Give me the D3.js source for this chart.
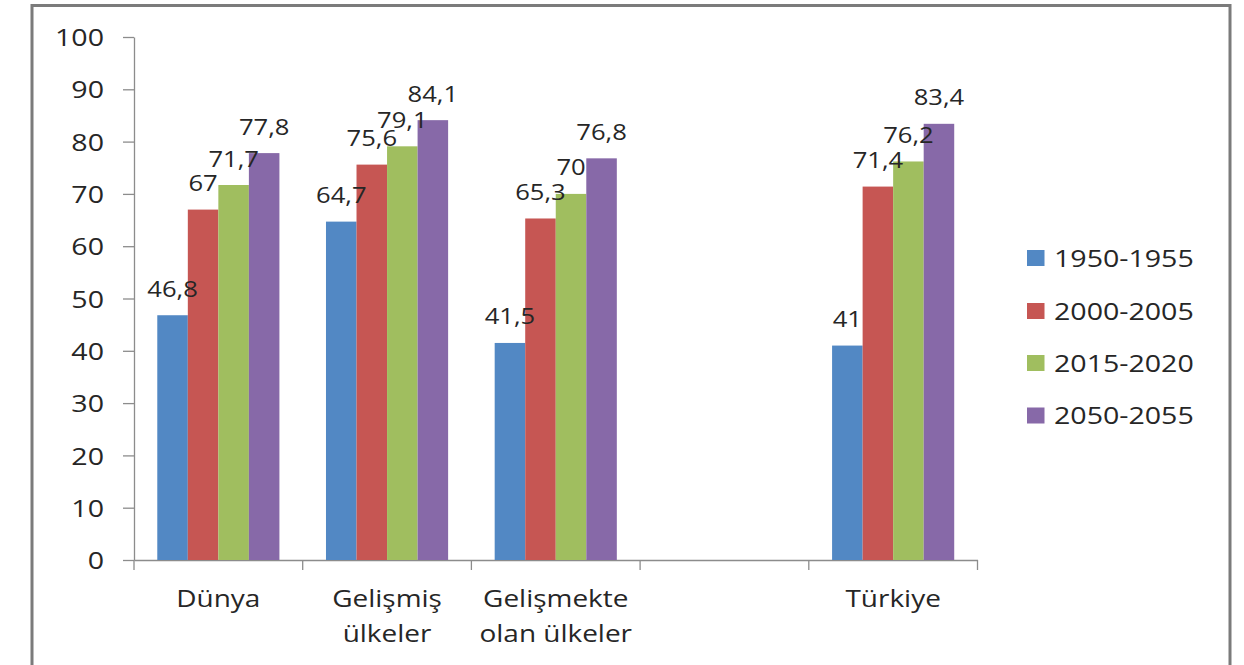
<!DOCTYPE html>
<html>
<head>
<meta charset="utf-8">
<script src="https://cdn.jsdelivr.net/npm/d3@7"></script>
<style>
  html, body { margin: 0; padding: 0; background: #ffffff; }
  svg { display: block; font-family: "Open Sans", sans-serif; }
</style>
</head>
<body>
<svg id="chart" width="1244" height="665"></svg>
<script>
// ---- data ----
const categories = ["Dünya", "Gelişmiş ülkeler", "Gelişmekte olan ülkeler", "", "Türkiye"];
const categoryLines = [["Dünya"], ["Gelişmiş", "ülkeler"], ["Gelişmekte", "olan ülkeler"], [], ["Türkiye"]];
const series = ["1950-1955", "2000-2005", "2015-2020", "2050-2055"];
const values1950 = [46.8, 64.7, 41.5, null, 41];
const values2000 = [67, 75.6, 65.3, null, 71.4];
const values2015 = [71.7, 79.1, 70, null, 76.2];
const values2050 = [77.8, 84.1, 76.8, null, 83.4];
const yTicks = [0, 10, 20, 30, 40, 50, 60, 70, 80, 90, 100];
const colors = ["#5288C4", "#C65653", "#A0BE5F", "#8769A8"];

const seriesValues = [values1950, values2000, values2015, values2050];
const keys = categories.map((c, i) => "c" + i);

const SX = 1.19; // horizontal stretch of the source rendering
const svg = d3.select("#chart");

// outer frame
svg.append("rect").attr("x", 32).attr("y", 5.5).attr("width", 1198).attr("height", 700)
  .attr("fill", "#fff").attr("stroke", "#7b7b7b").attr("stroke-width", 3);

const x0 = d3.scaleBand().domain(keys).range([134, 977.5]).paddingInner(0).paddingOuter(0);
const bw = x0.bandwidth();
const gap = bw * 0.138;
const x1 = d3.scaleBand().domain(series).range([gap, bw - gap]).padding(0);
const y = d3.scaleLinear().domain([0, 100]).range([560, 37]);

function stretchText(sel) {
  sel.each(function () {
    const t = d3.select(this);
    const xv = +t.attr("x") || 0;
    t.attr("x", xv / SX).attr("transform", `scale(${SX},1)`);
  });
}

// y axis
const yAxis = svg.append("g").attr("transform", "translate(134,0)")
  .call(d3.axisLeft(y).tickValues(yTicks).tickSize(11).tickPadding(19).tickSizeOuter(0));
yAxis.select(".domain").attr("stroke", "#8c8c8c").attr("stroke-width", 1.3);
yAxis.selectAll(".tick line").attr("stroke", "#8c8c8c").attr("stroke-width", 1.3);
yAxis.selectAll(".tick text").attr("font-family", "Open Sans").attr("font-size", 24)
  .attr("fill", "#262626").attr("dy", "0.36em").call(stretchText);

// x axis
const xAxis = svg.append("g").attr("transform", "translate(0,560)")
  .call(d3.axisBottom(x0).tickSize(0).tickFormat(""));
xAxis.select(".domain").attr("stroke", "#8c8c8c").attr("stroke-width", 1.3);
const bounds = keys.map(k => x0(k)).concat([x0(keys[keys.length - 1]) + bw]);
xAxis.selectAll("line.bound").data(bounds).enter().append("line").attr("class", "bound")
  .attr("x1", d => d).attr("x2", d => d).attr("y1", 0).attr("y2", 10)
  .attr("stroke", "#8c8c8c").attr("stroke-width", 1.3);

// category labels
const catG = svg.append("g");
keys.forEach((k, i) => {
  categoryLines[i].forEach((line, j) => {
    catG.append("text")
      .attr("transform", `translate(${x0(k) + bw / 2},${607 + j * 34.5}) scale(${SX},1)`)
      .attr("text-anchor", "middle").attr("font-size", 23.5).attr("fill", "#262626")
      .text(line);
  });
});

// bars
const barData = [];
keys.forEach((k, i) => {
  series.forEach((s, j) => {
    const v = seriesValues[j][i];
    if (v != null) barData.push({ k, s, j, v });
  });
});
svg.append("g").selectAll("rect").data(barData).enter().append("rect")
  .attr("x", d => x0(d.k) + x1(d.s))
  .attr("y", d => y(d.v))
  .attr("width", x1.bandwidth())
  .attr("height", d => y(0) - y(d.v))
  .attr("fill", d => colors[d.j]);

// value labels
svg.append("g").selectAll("text").data(barData).enter().append("text")
  .attr("transform", d => `translate(${x0(d.k) + x1(d.s) + x1.bandwidth() / 2},${y(d.v) - 18.5}) scale(${SX},1)`)
  .attr("text-anchor", "middle").attr("font-size", 21.5).attr("fill", "#262626")
  .text(d => String(d.v).replace(".", ","));

// legend
const legendY = [258, 311, 363, 415.5];
const lg = svg.append("g");
series.forEach((s, j) => {
  lg.append("rect").attr("x", 1027).attr("y", legendY[j] - 8).attr("width", 17.5).attr("height", 16)
    .attr("fill", colors[j]);
  lg.append("text")
    .attr("transform", `translate(1054,${legendY[j] + 8.5}) scale(${SX},1)`)
    .attr("font-size", 24).attr("fill", "#262626").text(s);
});
</script>
</body>
</html>
